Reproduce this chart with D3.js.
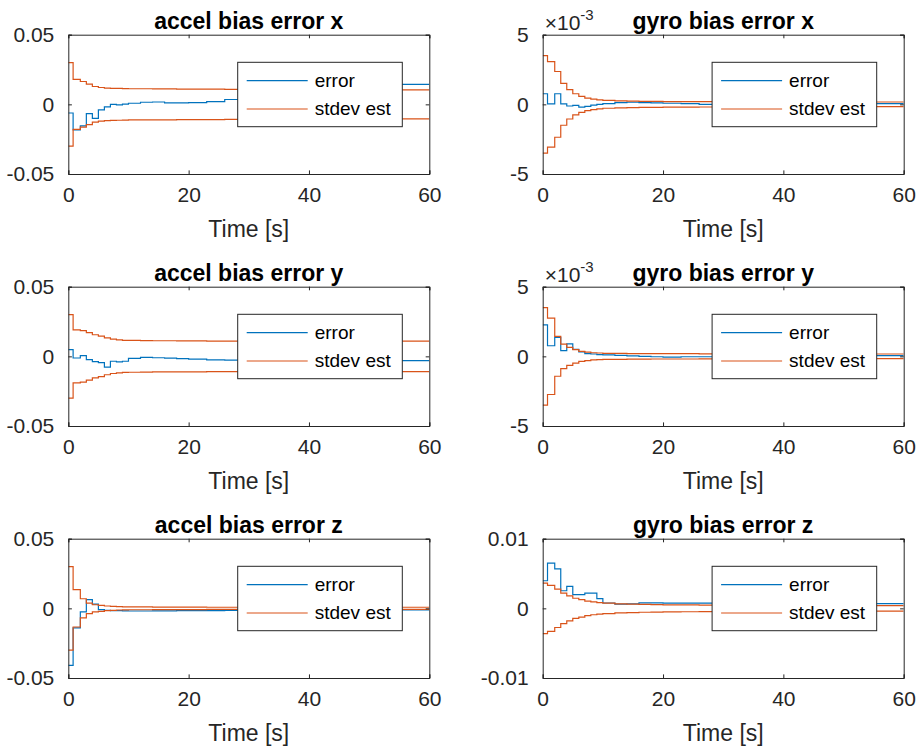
<!DOCTYPE html>
<html>
<head>
<meta charset="utf-8">
<script src="https://cdn.jsdelivr.net/npm/d3@7"></script>
<style>
  html, body { margin: 0; padding: 0; background: #fff; }
  svg { display: block; }
  text { font-family: "Liberation Sans", Arial, Helvetica, sans-serif; }
</style>
</head>
<body>
<svg id="chart" width="922" height="751"></svg>
<script>
// time stamps of the filter updates (stairs), seconds
const times = [0, 0.8, 2, 3, 4, 5, 6, 7, 8, 9, 10, 12, 14, 16, 18, 20, 23, 26, 30, 35, 40, 45, 50, 55, 60];

const accelXErr = [-0.0062, -0.0183, -0.0155, -0.0066, -0.010, -0.004, -0.0018, 0.0000, -0.0004, 0.0002, 0.0008, 0.0015, 0.0017, 0.0010, 0.0010, 0.0012, 0.0020, 0.0035, 0.0055, 0.0080, 0.0100, 0.0120, 0.0130, 0.0143, 0.0143];
const accelXStd = [0.030, 0.018, 0.0164, 0.0145, 0.0128, 0.0121, 0.0117, 0.0115, 0.0114, 0.0113, 0.0112, 0.0112, 0.0111, 0.0111, 0.0110, 0.0110, 0.0109, 0.0108, 0.0107, 0.0106, 0.0106, 0.0105, 0.0105, 0.0104, 0.0104];

const gyroXErr = [0.76e-3, 0.03e-3, 0.76e-3, 0.03e-3, -0.12e-3, -0.07e-3, -0.2e-3, -0.15e-3, -0.05e-3, 0, 0.05e-3, 0.12e-3, 0.15e-3, 0.12e-3, 0.1e-3, 0.08e-3, 0.05e-3, 0, -0.02e-3, -0.05e-3, -0.05e-3, -0.02e-3, 0, 0.05e-3, 0.05e-3];
const gyroXStd = [3.5e-3, 3.07e-3, 2.36e-3, 1.5e-3, 1.05e-3, 0.76e-3, 0.57e-3, 0.45e-3, 0.38e-3, 0.32e-3, 0.28e-3, 0.25e-3, 0.23e-3, 0.22e-3, 0.21e-3, 0.2e-3, 0.2e-3, 0.19e-3, 0.19e-3, 0.18e-3, 0.18e-3, 0.17e-3, 0.17e-3, 0.17e-3, 0.17e-3];

const accelYErr = [0.0048, -0.0012, 0.0005, -0.0024, -0.0038, -0.0045, -0.0078, -0.0035, -0.004, -0.0035, -0.0015, -0.0007, -0.001, -0.0013, -0.0017, -0.002, -0.0025, -0.0027, -0.0028, -0.003, -0.003, -0.003, -0.003, -0.003, -0.003];
const accelYStd = [0.030, 0.019, 0.0185, 0.017, 0.0155, 0.0145, 0.0132, 0.0123, 0.0118, 0.0115, 0.0114, 0.0113, 0.0112, 0.0112, 0.0111, 0.0111, 0.0110, 0.0110, 0.0110, 0.0110, 0.0110, 0.0110, 0.0110, 0.0110, 0.0110];

const gyroYErr = [2.26e-3, 0.76e-3, 1.36e-3, 0.41e-3, 0.9e-3, 0.5e-3, 0.32e-3, 0.2e-3, 0.17e-3, 0.12e-3, 0.1e-3, 0.07e-3, 0.03e-3, 0, -0.03e-3, -0.05e-3, -0.03e-3, -0.03e-3, -0.05e-3, -0.03e-3, 0, 0, 0.02e-3, 0.05e-3, 0.05e-3];
const gyroYStd = [3.5e-3, 2.74e-3, 1.43e-3, 0.88e-3, 0.65e-3, 0.48e-3, 0.36e-3, 0.3e-3, 0.26e-3, 0.24e-3, 0.22e-3, 0.21e-3, 0.2e-3, 0.2e-3, 0.19e-3, 0.19e-3, 0.19e-3, 0.18e-3, 0.18e-3, 0.18e-3, 0.18e-3, 0.17e-3, 0.17e-3, 0.17e-3, 0.17e-3];

const accelZErr = [-0.041, -0.014, -0.0026, 0.0062, 0.0031, -0.0009, -0.0014, -0.0016, -0.0017, -0.0018, -0.0019, -0.0019, -0.0018, -0.0018, -0.0017, -0.0017, -0.0016, -0.0015, -0.0015, -0.0014, -0.0014, -0.0013, -0.0013, -0.0012, -0.0012];
const accelZStd = [0.030, 0.0134, 0.0069, 0.0038, 0.0026, 0.0021, 0.0017, 0.0014, 0.0012, 0.0011, 0.0010, 0.0010, 0.0009, 0.0009, 0.0009, 0.0009, 0.0008, 0.0008, 0.0008, 0.0008, 0.0008, 0.0008, 0.0008, 0.0008, 0.0008];

const gyroZErr = [3.96e-3, 6.48e-3, 5.67e-3, 2.53e-3, 3.15e-3, 1.96e-3, 1.96e-3, 2.2e-3, 2.2e-3, 1.39e-3, 0.77e-3, 0.62e-3, 0.65e-3, 0.8e-3, 0.78e-3, 0.76e-3, 0.76e-3, 0.75e-3, 0.74e-3, 0.73e-3, 0.72e-3, 0.7e-3, 0.7e-3, 0.68e-3, 0.68e-3];
const gyroZStd = [3.62e-3, 3.3e-3, 2.75e-3, 2.2e-3, 1.8e-3, 1.45e-3, 1.25e-3, 1.05e-3, 0.92e-3, 0.82e-3, 0.75e-3, 0.65e-3, 0.6e-3, 0.56e-3, 0.53e-3, 0.51e-3, 0.49e-3, 0.47e-3, 0.45e-3, 0.43e-3, 0.42e-3, 0.41e-3, 0.4e-3, 0.39e-3, 0.39e-3];

const xTicks = [0, 20, 40, 60];
const accelTicks = [-0.05, 0, 0.05];
const accelTickLabels = ["-0.05", "0", "0.05"];
const gyroTicks = [-5e-3, 0, 5e-3];
const gyroTickLabels = ["-5", "0", "5"];
const gyroZTicks = [-0.01, 0, 0.01];
const gyroZTickLabels = ["-0.01", "0", "0.01"];
const legendLabels = ["error", "stdev est"];

const panels = [
  { title: "accel bias error x", err: accelXErr, std: accelXStd, ticks: accelTicks, labels: accelTickLabels, exp: false },
  { title: "gyro bias error x", err: gyroXErr, std: gyroXStd, ticks: gyroTicks, labels: gyroTickLabels, exp: true },
  { title: "accel bias error y", err: accelYErr, std: accelYStd, ticks: accelTicks, labels: accelTickLabels, exp: false },
  { title: "gyro bias error y", err: gyroYErr, std: gyroYStd, ticks: gyroTicks, labels: gyroTickLabels, exp: true },
  { title: "accel bias error z", err: accelZErr, std: accelZStd, ticks: accelTicks, labels: accelTickLabels, exp: false },
  { title: "gyro bias error z", err: gyroZErr, std: gyroZStd, ticks: gyroZTicks, labels: gyroZTickLabels, exp: false },
];

const BLUE = "#0072BD", ORANGE = "#D95319", AX = "#262626";
const colLeft = [68.3, 542.7], rowTop = [34.7, 286.7, 538.7];
const W = 361, H = 139.3, tickLen = 3.6;

const svg = d3.select("#chart");

panels.forEach((p, i) => {
  const left = colLeft[i % 2], top = rowTop[Math.floor(i / 2)];
  const g = svg.append("g").attr("transform", `translate(${left},${top})`);

  const x = d3.scaleLinear().domain([0, 60]).range([0, W]);
  const y = d3.scaleLinear().domain([p.ticks[0], p.ticks[2]]).range([H, 0]);

  const clipId = "clip" + i;
  g.append("clipPath").attr("id", clipId)
    .append("rect").attr("width", W).attr("height", H);

  const line = d3.line().x(d => x(d[0])).y(d => y(d[1])).curve(d3.curveStepAfter);
  const plot = g.append("g").attr("clip-path", `url(#${clipId})`);
  const series = [
    { vals: p.err, color: BLUE },
    { vals: p.std, color: ORANGE },
    { vals: p.std.map(v => -v), color: ORANGE },
  ];
  series.forEach(s => {
    plot.append("path")
      .attr("d", line(times.map((t, k) => [t, s.vals[k]])))
      .attr("fill", "none").attr("stroke", s.color).attr("stroke-width", 1.2);
  });

  // axes: bottom/left with labels, top/right mirrored ticks
  const xb = g.append("g").attr("transform", `translate(0,${H})`)
    .call(d3.axisBottom(x).tickValues(xTicks).tickSize(-tickLen).tickPadding(13).tickFormat(d3.format("d")));
  const xt = g.append("g")
    .call(d3.axisTop(x).tickValues(xTicks).tickSize(-tickLen).tickFormat(""));
  const yl = g.append("g")
    .call(d3.axisLeft(y).tickValues(p.ticks).tickSize(-tickLen).tickPadding(14).tickFormat((d, k) => p.labels[k]));
  const yr = g.append("g").attr("transform", `translate(${W},0)`)
    .call(d3.axisRight(y).tickValues(p.ticks).tickSize(-tickLen).tickFormat(""));
  [xb, xt, yl, yr].forEach(a => {
    a.select(".domain").attr("stroke", AX).attr("stroke-width", 1);
    a.selectAll(".tick line").attr("stroke", AX).attr("stroke-width", 1);
    a.selectAll("text").attr("fill", AX).style("font-size", "21px")
      .style("font-family", '"Liberation Sans", Arial, sans-serif');
  });

  g.append("text").attr("x", W / 2).attr("y", -6).attr("text-anchor", "middle")
    .style("font-size", "23px").style("font-weight", "bold").attr("fill", "#000")
    .text(p.title);

  g.append("text").attr("x", W / 2).attr("y", H + 63).attr("text-anchor", "middle")
    .style("font-size", "23px").attr("fill", AX).text("Time [s]");

  if (p.exp) {
    const t = g.append("text").attr("x", 2).attr("y", -5).attr("fill", AX).style("font-size", "21px");
    t.append("tspan").text("\u00d710");
    t.append("tspan").attr("dy", -10).style("font-size", "15px").text("-3");
  }

  // legend (northeast, opaque)
  const lw = 164.6, lh = 64.4;
  const lg = g.append("g").attr("transform", `translate(${W - 27 - lw},${27.6})`);
  lg.append("rect").attr("width", lw).attr("height", lh)
    .attr("fill", "#fff").attr("stroke", AX).attr("stroke-width", 1);
  [BLUE, ORANGE].forEach((c, k) => {
    const ly = 18.4 + k * 28.3;
    lg.append("line").attr("x1", 9).attr("x2", 70).attr("y1", ly).attr("y2", ly)
      .attr("stroke", c).attr("stroke-width", 1.2);
    lg.append("text").attr("x", 77).attr("y", ly + 6.5).attr("fill", "#000")
      .style("font-size", "19px").text(legendLabels[k]);
  });
});
</script>
</body>
</html>
